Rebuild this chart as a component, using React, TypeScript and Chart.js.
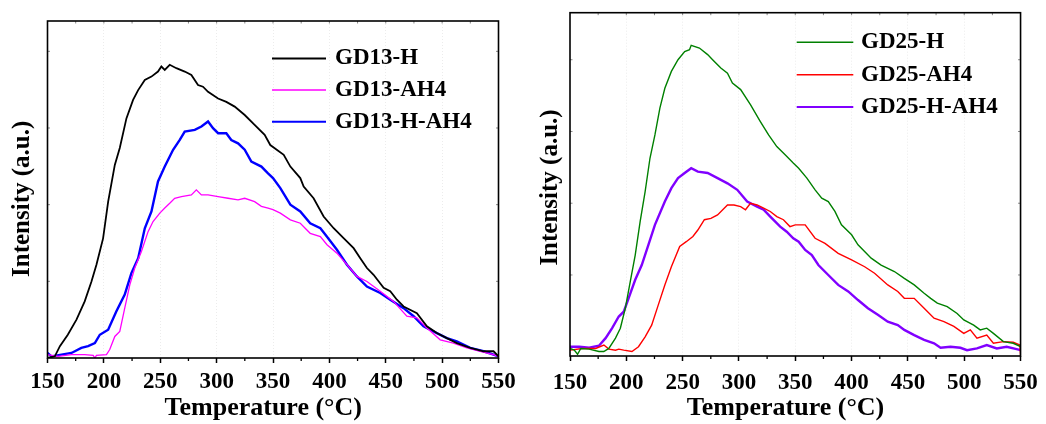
import React, { useEffect, useRef } from 'react';
import { Chart, registerables } from 'chart.js';

Chart.register(...registerables);

const FONT = '"Liberation Serif", "Times New Roman", serif';

// ---------- Left panel (GD13) ----------
const gd13H_T = [150, 156.5, 161, 168, 175.7, 183, 189, 193.4, 199.3, 203.8, 209.7, 214.1, 220, 225.9, 230.4, 236.3, 242.2, 248, 251, 254, 258.4, 264.3, 271.7, 277.6, 283.5, 287.9, 292.4, 301.3, 308.6, 316, 324.9, 333.7, 342.6, 347.6, 359.5, 365.4, 374.2, 377.2, 386, 394.9, 403.8, 412.6, 421.5, 427.4, 433.3, 439.2, 448.1, 454, 459.9, 465.8, 477.6, 486.5, 495.3, 504.2, 513, 524.9, 536.7, 545.6, 550];
const gd13H_I = [0, 0.5, 3.5, 6.9, 11.4, 16.8, 22.7, 27.7, 35.5, 46.4, 57.3, 62.3, 71.1, 76.6, 79.5, 82.5, 83.5, 85, 86.5, 85.5, 87, 86, 85, 84, 81, 80.5, 79, 77, 76, 74.6, 72.1, 69.2, 66.2, 63.2, 60.3, 56.8, 53.4, 50.9, 47.4, 42, 38.5, 35.6, 32.6, 29.6, 26.7, 24.7, 20.8, 19.8, 17.3, 15.3, 13.3, 9.4, 7.4, 5.9, 4.4, 3, 2, 2, 0.5];

const gd13AH4_T = [150, 159.5, 171.3, 183, 190.5, 192, 193.4, 202.3, 205.2, 209.7, 214.1, 218.5, 223, 227.4, 233.3, 239.2, 243.6, 249.6, 254, 258.4, 262.8, 268.8, 277.6, 282, 286.5, 292.4, 301.3, 310.1, 319, 324.9, 333.7, 339.7, 345.6, 350, 356.5, 365.4, 374.2, 383, 392, 397.9, 406.7, 415.6, 424.4, 433.3, 445.1, 456.9, 468.7, 477.6, 486.5, 498.3, 510, 522, 533.8, 545.6, 550];
const gd13AH4_I = [1, 0.5, 1, 1, 0.8, 0, 0.8, 1, 2.5, 6.4, 7.9, 14.8, 21.7, 26.7, 31.6, 37.5, 40.5, 43, 44.5, 45.9, 47.4, 47.9, 48.4, 49.9, 48.4, 48.4, 47.9, 47.4, 46.9, 47.4, 46.4, 45, 44.5, 44, 43, 41, 40, 37, 36, 33.6, 31.1, 27.7, 24.2, 22.7, 19.8, 16.8, 12.4, 11.9, 8.9, 5.4, 4.4, 3, 2, 1, 0.5];

const gd13HAH4_T = [150, 153.5, 162.4, 171.3, 180, 186, 192, 196.4, 203.8, 211, 218.5, 224.4, 230.4, 236.3, 242.2, 248, 254, 261.4, 267.3, 271.7, 280.6, 286.5, 292.4, 296.8, 301.3, 308.6, 313, 319, 324.9, 330.8, 339.7, 345.6, 350, 356.5, 365.4, 374.2, 383, 392, 397.9, 406.7, 415.6, 424.4, 433.3, 445.1, 454, 465.8, 474.7, 483.5, 495.3, 504.2, 513, 524.9, 536.7, 545.6, 550];
const gd13HAH4_I = [1.5, 0.5, 1, 1.5, 3, 3.5, 4.4, 6.9, 8.4, 13.8, 18.8, 25.2, 29.6, 38.5, 43.5, 52.4, 56.8, 61.8, 64.7, 67.2, 67.7, 68.7, 70.2, 68.2, 66.7, 66.7, 64.7, 63.7, 61.8, 58.3, 56.8, 54.8, 53.4, 50.4, 45.5, 43.5, 40, 38.5, 36, 32.1, 27.7, 24.2, 21.2, 19.3, 17.3, 14.8, 12.4, 9.4, 7.4, 5.9, 4.9, 3, 2, 1, 0.5];

// ---------- Right panel (GD25) ----------
const gd25H_T = [150, 153.8, 156.7, 159.6, 167, 175.7, 180, 184.5, 190.4, 194.7, 199.1, 203.5, 207.9, 212.3, 216.7, 221, 225.4, 229.8, 234.2, 240, 245.9, 251.8, 256.1, 257.6, 264.9, 272.2, 276.6, 283.9, 289.8, 294.2, 301.5, 310.2, 319, 326.3, 333.6, 341, 348.2, 353, 360.3, 367.6, 373.5, 379.3, 385.2, 391, 400, 405.7, 417.4, 426.2, 438, 446.8, 455.6, 464.4, 470.2, 476.1, 484.9, 493.7, 499.6, 508.4, 514.2, 520, 525.9, 534.8, 543.5, 550];
const gd25H_I = [2.2, 1.7, 0.5, 2.2, 2, 1.3, 1.3, 2.2, 5.2, 8.1, 13.9, 21.7, 29.4, 39.2, 47.9, 57.6, 64.4, 72.2, 78, 82.9, 86.3, 88.7, 89.2, 90.5, 89.7, 87.8, 86.3, 83.9, 82.4, 79.5, 77.6, 73.2, 68.3, 64.4, 61, 58.6, 56.2, 54.7, 51.8, 48.4, 46, 45, 42.1, 38.2, 35.3, 32.4, 28.5, 26.5, 24.6, 22.6, 20.7, 18.3, 16.8, 15.4, 14.4, 12.4, 10.5, 9, 7.6, 8.1, 6.6, 4.2, 3.7, 2.7];

const gd25AH4_T = [150, 161, 172.8, 180.1, 184.5, 190.4, 193.3, 197.7, 205, 210.8, 216.7, 222.5, 228.4, 234.2, 240, 247.4, 253.2, 259.1, 263.5, 269.3, 275.1, 281, 289.8, 295.6, 301.5, 305.8, 310.2, 316.1, 321.9, 327.8, 333.6, 339.5, 345.3, 350, 358.8, 367.6, 376.4, 388.1, 400, 411.6, 420.4, 432.1, 441, 446.8, 455.6, 464.4, 473.2, 482, 490.8, 499.6, 505.4, 511.3, 520, 525.9, 534.8, 543.5, 549.4, 550];
const gd25AH4_I = [1.7, 2.2, 2.2, 3.2, 2, 1.7, 2, 1.7, 1.3, 2.7, 5.6, 9, 14.9, 20.7, 26, 31.9, 33.3, 34.8, 36.7, 39.7, 40.1, 41.1, 44, 44, 43.5, 42.6, 44.5, 44, 43.1, 42.1, 40.6, 39.7, 37.7, 38.2, 38.2, 34.3, 32.8, 29.9, 28, 26, 24.1, 20.7, 18.8, 16.8, 16.8, 13.9, 11, 10, 8.6, 6.6, 7.6, 5.2, 6.1, 3.7, 4.2, 4, 3.2, 0.3];

const gd25HAH4_T = [150, 158.2, 167, 175.7, 181.6, 187.4, 193.3, 197.7, 202, 207.9, 213.7, 219.6, 225.4, 234.2, 240, 245.9, 251.8, 257.6, 263.5, 272.2, 281, 289.8, 298.5, 307.3, 316.1, 321.9, 327.8, 336.6, 342.4, 348.2, 353, 358.8, 364.7, 370.5, 379.3, 388.1, 397, 405.7, 414.5, 423.3, 432.1, 441, 446.8, 455.6, 464.4, 473.2, 479, 487.8, 496.6, 502.5, 511.3, 520, 528.9, 537.7, 546.5, 550];
const gd25HAH4_I = [2.7, 2.7, 2.4, 3, 5.2, 8.1, 11.5, 12.9, 16.8, 22.2, 26.5, 32.4, 38.2, 45, 48.9, 51.8, 53.3, 54.7, 53.7, 53.3, 51.8, 50.3, 48.4, 45, 43.5, 42.6, 40.6, 37.7, 36.2, 34.3, 33.3, 30.9, 29.4, 26.5, 23.6, 20.7, 18.8, 16.3, 13.9, 12, 10, 9, 7.6, 6.1, 4.7, 3.7, 2.4, 2.7, 2.4, 1.7, 2.2, 3.2, 2.2, 2.7, 2, 1.7];

// ---------- Axes ----------
const xMinorTicks = [175, 225, 275, 325, 375, 425, 475, 525];
const leftYInnerTicks = [22.75, 45.5, 68.25, 91];
const rightYInnerTicks = [23.6, 44.5, 65.4, 86.3];
const xTitle = 'Temperature (°C)';
const yTitle = 'Intensity (a.u.)';

type Series = { label: string; t: number[]; v: number[]; color: string; width: number };

type Panel = {
  series: Series[];
  canvasW: number;
  padTop: number;
  padRight: number;
  yWidth: number;
  xHeight: number;
  tickPad: number;
  yTitlePad: number;
  yTitleText: string;
  legendX1: number;
  legendX2: number;
  legendTX: number;
  legendY: number[];
  yInner: number[];
};

const leftPanel: Panel = {
  series: [
    { label: 'GD13-H', t: gd13H_T, v: gd13H_I, color: '#000000', width: 1.8 },
    { label: 'GD13-AH4', t: gd13AH4_T, v: gd13AH4_I, color: '#ff00ff', width: 1.3 },
    { label: 'GD13-H-AH4', t: gd13HAH4_T, v: gd13HAH4_I, color: '#0000ff', width: 2.4 },
  ],
  canvasW: 525,
  padTop: 21,
  padRight: 26.5,
  yWidth: 47.5,
  xHeight: 66,
  tickPad: 5.5,
  yTitlePad: 7.5,
  yTitleText: yTitle + '   ',
  legendX1: 272,
  legendX2: 326,
  legendTX: 335,
  legendY: [58.5, 90, 121.7],
  yInner: leftYInnerTicks,
};

const rightPanel: Panel = {
  series: [
    { label: 'GD25-H', t: gd25H_T, v: gd25H_I, color: '#008000', width: 1.4 },
    { label: 'GD25-AH4', t: gd25AH4_T, v: gd25AH4_I, color: '#ff0000', width: 1.4 },
    { label: 'GD25-H-AH4', t: gd25HAH4_T, v: gd25HAH4_I, color: '#8000ff', width: 2.4 },
  ],
  canvasW: 521,
  padTop: 12.7,
  padRight: 20.3,
  yWidth: 45,
  xHeight: 68,
  tickPad: 8.2,
  yTitlePad: 11,
  yTitleText: yTitle + ' ',
  legendX1: 271.7,
  legendX2: 328.3,
  legendTX: 336,
  legendY: [42.3, 74.7, 107],
  yInner: rightYInnerTicks,
};

function makePlugin(panel: Panel) {
  return {
    id: 'panelDecor',
    afterDraw(chart: any) {
      const { ctx, chartArea: a, scales } = chart;
      ctx.save();
      // minor ticks (outward, bottom)
      ctx.strokeStyle = '#000';
      ctx.lineWidth = 1.3;
      for (const t of xMinorTicks) {
        const x = scales.x.getPixelForValue(t);
        ctx.beginPath();
        ctx.moveTo(x, a.bottom);
        ctx.lineTo(x, a.bottom + 3);
        ctx.stroke();
      }
      // faint inward ticks on top / sides
      ctx.strokeStyle = '#888';
      ctx.lineWidth = 1;
      for (let t = 175; t < 550; t += 25) {
        const x = scales.x.getPixelForValue(t);
        ctx.beginPath();
        ctx.moveTo(x, a.top);
        ctx.lineTo(x, a.top + 2.5);
        ctx.stroke();
      }
      for (const v of panel.yInner) {
        const y = scales.y.getPixelForValue(v);
        ctx.beginPath();
        ctx.moveTo(a.left, y);
        ctx.lineTo(a.left + 2.5, y);
        ctx.moveTo(a.right, y);
        ctx.lineTo(a.right - 2.5, y);
        ctx.stroke();
      }
      // frame
      ctx.strokeStyle = '#000';
      ctx.lineWidth = 1.6;
      ctx.strokeRect(a.left, a.top, a.right - a.left, a.bottom - a.top);
      // legend
      ctx.font = 'bold 23px ' + FONT;
      ctx.textBaseline = 'middle';
      ctx.textAlign = 'left';
      chart.data.datasets.forEach((ds: any, i: number) => {
        const y = panel.legendY[i];
        ctx.strokeStyle = ds.borderColor;
        ctx.lineWidth = Math.min(ds.borderWidth, 2);
        ctx.beginPath();
        ctx.moveTo(panel.legendX1, y);
        ctx.lineTo(panel.legendX2, y);
        ctx.stroke();
        ctx.fillStyle = '#000';
        ctx.fillText(ds.label, panel.legendTX, y);
      });
      ctx.restore();
    },
  };
}

function makeConfig(panel: Panel): any {
  return {
    type: 'line',
    data: {
      datasets: panel.series.map((s) => ({
        label: s.label,
        data: s.t.map((x, i) => ({ x, y: s.v[i] })),
        borderColor: s.color,
        backgroundColor: s.color,
        borderWidth: s.width,
        pointRadius: 0,
        fill: false,
        tension: 0,
      })),
    },
    options: {
      animation: false,
      responsive: false,
      maintainAspectRatio: false,
      layout: { padding: { left: 0, right: panel.padRight, top: panel.padTop, bottom: 0 } },
      plugins: { legend: { display: false }, tooltip: { enabled: false } },
      scales: {
        x: {
          type: 'linear',
          min: 150,
          max: 550,
          ticks: {
            stepSize: 50,
            autoSkip: false,
            maxRotation: 0,
            minRotation: 0,
            color: '#000',
            padding: panel.tickPad,
            font: { family: FONT, size: 23, weight: 'bold' },
            callback: (v: any) => String(v),
          },
          grid: {
            display: true,
            drawOnChartArea: true,
            drawTicks: true,
            tickLength: 5,
            tickColor: '#000',
            tickWidth: 1.5,
            lineWidth: 1,
            color: (c: any) => (c.tick && (c.tick.value === 150 || c.tick.value === 550) ? 'rgba(0,0,0,0)' : '#ececec'),
          },
          border: { display: false, dash: [1, 2] },
          title: {
            display: true,
            text: xTitle + '   ',
            color: '#000',
            font: { family: FONT, size: 26, weight: 'bold' },
            padding: { top: 0, bottom: 0.4 },
          },
          afterFit: (s: any) => {
            s.height = panel.xHeight;
          },
        },
        y: {
          type: 'linear',
          min: 0,
          max: 100,
          ticks: { display: false },
          grid: { display: false, drawTicks: false },
          border: { display: false },
          title: {
            display: true,
            text: panel.yTitleText,
            color: '#000',
            font: { family: FONT, size: 25, weight: 'bold' },
            padding: { top: panel.yTitlePad, bottom: 0 },
          },
          afterFit: (s: any) => {
            s.width = panel.yWidth;
          },
        },
      },
    },
    plugins: [makePlugin(panel)],
  };
}

function PanelChart({ panel, left }: { panel: Panel; left: number }) {
  const ref = useRef<HTMLCanvasElement | null>(null);
  useEffect(() => {
    if (!ref.current) return;
    const chart = new Chart(ref.current, makeConfig(panel));
    return () => chart.destroy();
  }, [panel]);
  return (
    <canvas
      ref={ref}
      width={panel.canvasW}
      height={424}
      style={{ position: 'absolute', left, top: 0, width: panel.canvasW, height: 424 }}
    />
  );
}

export default function App() {
  return (
    <div style={{ position: 'absolute', left: 0, top: 0, width: 1046, height: 424, background: '#fff', overflow: 'hidden' }}>
      <PanelChart panel={leftPanel} left={0} />
      <PanelChart panel={rightPanel} left={525} />
    </div>
  );
}
